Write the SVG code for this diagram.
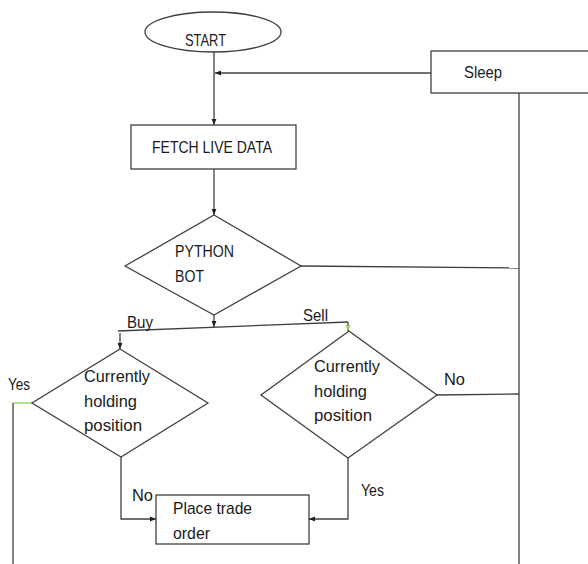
<svg xmlns="http://www.w3.org/2000/svg" width="588" height="564" viewBox="0 0 588 564">
<style>
.s{fill:#fff;stroke:#404040;stroke-width:1.3}
.c{fill:none;stroke:#404040;stroke-width:1.3}
text{font-family:"Liberation Sans",Arial,sans-serif;font-size:17px;fill:#1a1a1a}
</style>
<defs>
<marker id="ah" viewBox="0 0 10 10" refX="10" refY="5" markerWidth="6" markerHeight="6" markerUnits="userSpaceOnUse" orient="auto">
<path d="M0,1 L10,5 L0,9 Z" fill="#202020"/>
</marker>
<marker id="ahg" viewBox="0 0 10 10" refX="10" refY="5" markerWidth="6" markerHeight="6" markerUnits="userSpaceOnUse" orient="auto">
<path d="M0,1 L10,5 L0,9 Z" fill="#92d050"/>
</marker>
</defs>
<rect width="588" height="564" fill="#fff"/>
<g id="connectors">
<line class="c" x1="214" y1="52" x2="214" y2="125" marker-end="url(#ah)"/>
<line class="c" x1="431" y1="73" x2="215" y2="73" marker-end="url(#ah)"/>
<line class="c" x1="519" y1="93" x2="519" y2="564"/>
<line class="c" x1="214" y1="169" x2="214" y2="215" marker-end="url(#ah)"/>
<line class="c" x1="301" y1="266" x2="519" y2="268"/>
<line class="c" x1="214" y1="315" x2="214" y2="327" marker-end="url(#ah)"/>
<line class="c" x1="118" y1="331" x2="348" y2="322"/>
<line class="c" x1="120" y1="333" x2="120" y2="349" marker-end="url(#ah)"/>
<line class="c" x1="348" y1="322" x2="348" y2="331" stroke="#92d050" marker-end="url(#ahg)"/>
<line x1="13" y1="403" x2="32" y2="403" stroke="#92d050" stroke-width="1.3"/>
<line class="c" x1="13" y1="403" x2="13" y2="564"/>
<line class="c" x1="437" y1="395" x2="519" y2="394"/>
<polyline class="c" points="121,457 121,519 156,519" marker-end="url(#ah)"/>
<polyline class="c" points="348,458 348,519 309,519" marker-end="url(#ah)"/>
<text x="127" y="328" textLength="26" lengthAdjust="spacingAndGlyphs">Buy</text>
<text x="303" y="321" textLength="25" lengthAdjust="spacingAndGlyphs">Sell</text>
<text x="8" y="390" textLength="22" lengthAdjust="spacingAndGlyphs">Yes</text>
<text x="444" y="385" textLength="21" lengthAdjust="spacingAndGlyphs">No</text>
<text x="132" y="501" textLength="21" lengthAdjust="spacingAndGlyphs">No</text>
<text x="361" y="496" textLength="23" lengthAdjust="spacingAndGlyphs">Yes</text>
</g>
<g id="start">
<ellipse class="s" cx="213" cy="32" rx="68" ry="20"/>
<text x="185" y="46" textLength="41" lengthAdjust="spacingAndGlyphs">START</text>
</g>
<g id="sleep">
<rect class="s" x="431" y="51" width="160" height="42"/>
<text x="464" y="78" textLength="38" lengthAdjust="spacingAndGlyphs">Sleep</text>
</g>
<g id="fetch">
<rect class="s" x="131" y="125" width="165" height="44"/>
<text x="152" y="153" textLength="120" lengthAdjust="spacingAndGlyphs">FETCH LIVE DATA</text>
</g>
<g id="bot">
<polygon class="s" points="214,215 301,266 214,315 125,266"/>
<text x="175" y="257" textLength="59" lengthAdjust="spacingAndGlyphs">PYTHON</text>
<text x="175" y="282" textLength="29" lengthAdjust="spacingAndGlyphs">BOT</text>
</g>
<g id="buy-check">
<polygon class="s" points="120,349 208,403 121,457 32,403"/>
<text x="84" y="382" textLength="66" lengthAdjust="spacingAndGlyphs">Currently</text>
<text x="84" y="407" textLength="53" lengthAdjust="spacingAndGlyphs">holding</text>
<text x="84" y="431" textLength="58" lengthAdjust="spacingAndGlyphs">position</text>
</g>
<g id="sell-check">
<polygon class="s" points="349,331 437,395 348,458 261,395"/>
<text x="314" y="372" textLength="66" lengthAdjust="spacingAndGlyphs">Currently</text>
<text x="314" y="397" textLength="53" lengthAdjust="spacingAndGlyphs">holding</text>
<text x="314" y="421" textLength="58" lengthAdjust="spacingAndGlyphs">position</text>
</g>
<g id="place-order">
<rect class="s" x="156" y="495" width="153" height="49"/>
<text x="173" y="514" textLength="79" lengthAdjust="spacingAndGlyphs">Place trade</text>
<text x="173" y="539" textLength="37" lengthAdjust="spacingAndGlyphs">order</text>
</g>
</svg>
